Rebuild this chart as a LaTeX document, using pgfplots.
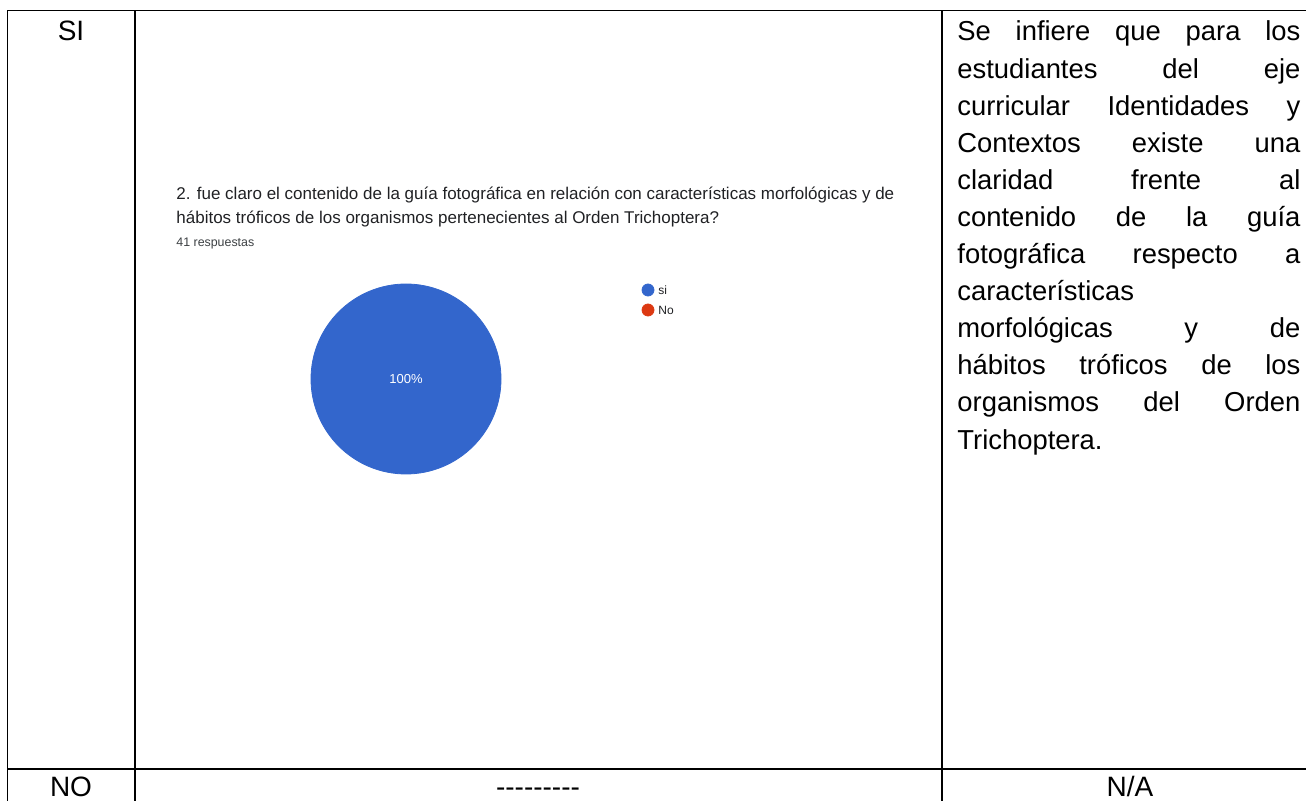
\documentclass[border=0pt]{standalone}
\usepackage{pgfplots}
\pgfplotsset{compat=1.18}
\usepackage{fontspec}
\setmainfont{Liberation Sans}
\definecolor{gblue}{HTML}{3366CC}
\definecolor{gred}{HTML}{DC3912}
\definecolor{gtext}{HTML}{202124}
\definecolor{ggrey}{HTML}{3C4043}

% answers of question 2 (41 responses)
\pgfplotstableread{
x   y   n
406 379 41
}\sidata
\begin{document}
\begin{tikzpicture}
\begin{axis}[
  scale only axis, width=653pt, height=400.5pt,
  xmin=0, xmax=1306, ymin=0, ymax=801, y dir=reverse,
  axis lines=none, clip=false,
]
\coordinate (bl) at (axis cs:0,801);
\coordinate (tr) at (axis cs:1306,0);
\coordinate (pc) at (axis cs:406,379);

% table rules
\draw[line width=0.65pt] (axis cs:7.5,820) -- (axis cs:7.5,10.5) -- (axis cs:1330,10.5);
\draw[line width=0.65pt] (axis cs:135,10.5) -- (axis cs:135,820);
\draw[line width=0.65pt] (axis cs:942,10.5) -- (axis cs:942,820);
\draw[line width=0.65pt] (axis cs:7.5,769) -- (axis cs:1330,769);

% table cells
\node[anchor=base, inner sep=0, font=\fontsize{14}{16}\selectfont] at (axis cs:71,41) {SI};
\node[anchor=base, inner sep=0, font=\fontsize{14}{16}\selectfont] at (axis cs:71,796) {NO};
\node[anchor=base, inner sep=0, font=\fontsize{14}{16}\selectfont] at (axis cs:538,796) {-{}-{}-{}-{}-{}-{}-{}-{}-};
\node[anchor=base, inner sep=0, font=\fontsize{14}{16}\selectfont] at (axis cs:1130,796) {N/A};

\begin{scope}[every node/.style={anchor=base west, inner sep=0, font=\fontsize{13.7}{16}\selectfont}]
\node at (axis cs:957,41.0)  {\hbox to 171.5pt{Se\hfill infiere\hfill que\hfill para\hfill los}};
\node at (axis cs:957,78.1)  {\hbox to 171.5pt{estudiantes\hfill del\hfill eje}};
\node at (axis cs:957,115.2) {\hbox to 171.5pt{curricular\hfill Identidades\hfill y}};
\node at (axis cs:957,152.3) {\hbox to 171.5pt{Contextos\hfill existe\hfill una}};
\node at (axis cs:957,189.4) {\hbox to 171.5pt{claridad\hfill frente\hfill al}};
\node at (axis cs:957,226.5) {\hbox to 171.5pt{contenido\hfill de\hfill la\hfill guía}};
\node at (axis cs:957,263.6) {\hbox to 171.5pt{fotográfica\hfill respecto\hfill a}};
\node at (axis cs:957,300.7) {características};
\node at (axis cs:957,337.8) {\hbox to 171.5pt{morfológicas\hfill y\hfill de}};
\node at (axis cs:957,374.9) {\hbox to 171.5pt{hábitos\hfill tróficos\hfill de\hfill los}};
\node at (axis cs:957,412.0) {\hbox to 171.5pt{organismos\hfill del\hfill Orden}};
\node at (axis cs:957,449.1) {Trichoptera.};
\end{scope}

% chart header
\node[anchor=base west, inner sep=0, text=gtext, font=\fontsize{8.5}{10}\selectfont] at (axis cs:176,200)
  {2. fue claro el contenido de la guía fotográfica en relación con características morfológicas y de};
\node[anchor=base west, inner sep=0, text=gtext, font=\fontsize{8.5}{10}\selectfont] at (axis cs:176,224)
  {hábitos tróficos de los organismos pertenecientes al Orden Trichoptera?};
\node[anchor=base west, inner sep=0, text=ggrey, font=\fontsize{6.2}{7}\selectfont] at (axis cs:176,247)
  {41 respuestas};

% pie: "si" takes the whole circle (41 of 41)
\addplot[only marks, mark=*, mark size=47.5pt, color=gblue] table[x=x, y=y] {\sidata};

% legend
\addplot[only marks, mark=*, mark size=3pt, color=gblue] coordinates {(648,290)};
\addplot[only marks, mark=*, mark size=3pt, color=gred] coordinates {(648,310)};
\node[anchor=west, inner sep=0, text=gtext, font=\fontsize{6}{7}\selectfont] at (axis cs:658,290) {si};
\node[anchor=west, inner sep=0, text=gtext, font=\fontsize{6}{7}\selectfont] at (axis cs:658,310) {No};
\end{axis}
\node[text=white, font=\fontsize{6.5}{7}\selectfont] at (pc) {100\%};
\pgfresetboundingbox
\useasboundingbox (bl) rectangle (tr);
\end{tikzpicture}
\end{document}
